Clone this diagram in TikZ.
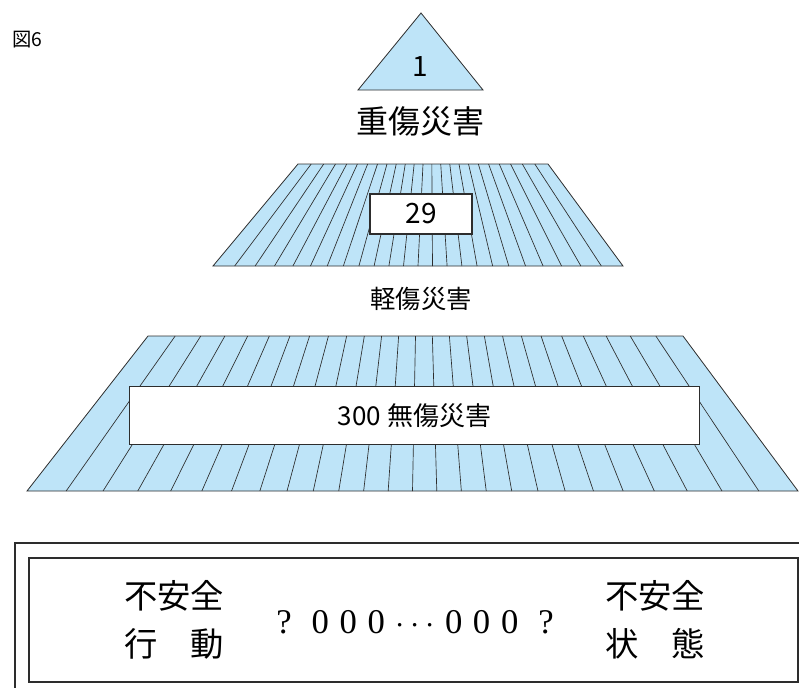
\documentclass[tikz,border=0pt]{standalone}
\usepackage{fontspec}
\newfontfamily\jpfont{Noto Sans CJK JP}
\newfontfamily\numfont{Liberation Serif}
\definecolor{pyrblue}{RGB}{190,228,248}
\definecolor{pyrline}{RGB}{45,45,45}

\begin{document}
\begin{tikzpicture}[x=0.75pt, y=-0.75pt]
    \tikzstyle{layer} = [fill=pyrblue, draw=pyrline, line width=0.6pt]
    \tikzstyle{hatch} = [draw=pyrline, line width=0.5pt]
    \tikzstyle{count} = [draw=pyrline, fill=white, line width=0.8pt, inner sep=0pt]
    \tikzstyle{level} = [font=\jpfont\fontsize{24}{28}\selectfont]
    \tikzstyle{cause} = [align=left, font=\jpfont\fontsize{25}{36}\selectfont]
    \tikzstyle{frame} = [draw=pyrline, line width=0.8pt]

    \useasboundingbox (0,0) rectangle (799,687);

    \node[anchor=west, inner sep=0pt, font=\jpfont\fontsize{14.5}{17}\selectfont] (fig) at (12,40) {図6};

    % top: serious injuries
    \draw[layer] (421,13) -- (483,90) -- (358,90) -- cycle;
    \node[font=\jpfont\fontsize{21}{24}\selectfont] (major) at (420,67) {1};
    \node[level, below of=major, node distance=41pt] (majorlbl) {重傷災害};

    % middle: minor injuries
    \draw[layer] (298,164) -- (548,164) -- (623,266) -- (213,266) -- cycle;
    \foreach \i in {1,...,23} {
        \pgfmathsetmacro{\u}{2*\i/24-1}
        \pgfmathsetmacro{\f}{(1+(\u+0.18*\u*\u*\u)/1.18)/2}
        \draw[hatch] ({298+250*\f},164) -- ({213+410*\f},266);
    }
    \node[count, minimum width=76.5pt, minimum height=30pt, font=\jpfont\fontsize{21}{24}\selectfont] (minor) at (421,214) {29};
    \node[below of=minor, node distance=64pt, font=\jpfont\fontsize{19}{22}\selectfont] (minorlbl) {軽傷災害};

    % bottom: no injuries
    \draw[layer] (148,336) -- (683,336) -- (798,491) -- (27,491) -- cycle;
    \foreach \i in {1,...,25} {
        \pgfmathsetmacro{\u}{2*\i/26-1}
        \pgfmathsetmacro{\f}{(1+(\u+0.22*\u*\u*\u)/1.22)/2}
        \draw[hatch] ({148+535*\f},336) -- ({27+771*\f},491);
    }
    \node[count, minimum width=428pt, minimum height=43pt, font=\jpfont\fontsize{19.5}{22}\selectfont] (none) at (414.5,415.5) {300 無傷災害};

    % causes
    \draw[frame] (15,700) |- (820,543);
    \draw[frame] (29,558) rectangle (798,682);
    \node[cause] (act) at (174,620) {不安全\\行　動};
    \node[cause] (state) at (655,620) {不安全\\状　態};
    \node[font=\numfont\fontsize{26}{30}\selectfont] (chain) at (415,622)
        {?\hspace{15pt}0\hspace{8pt}0\hspace{8pt}0\hspace{8pt}$\cdots$\hspace{8pt}0\hspace{8pt}0\hspace{8pt}0\hspace{15pt}?};
\end{tikzpicture}
\end{document}
